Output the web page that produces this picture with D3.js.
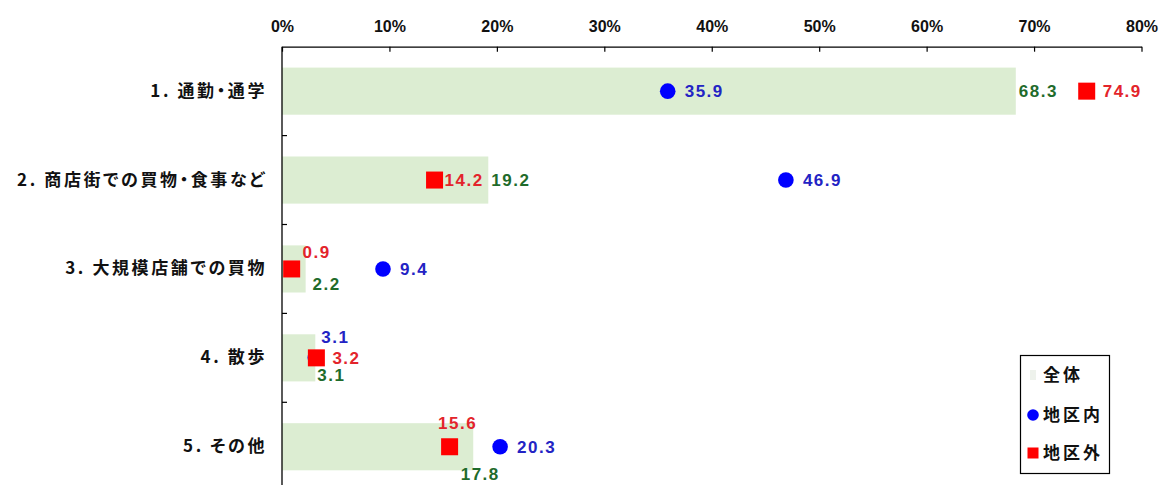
<!DOCTYPE html>
<html><head><meta charset="utf-8">
<script src="https://cdn.jsdelivr.net/npm/d3@7"></script>
<style>
html,body{margin:0;padding:0;background:#fff;}
svg{display:block;}
</style></head>
<body>
<svg id="chart" width="1161" height="485"></svg>
<script>
// ---- data ----
const categories = ["1. 通勤・通学", "2. 商店街での買物・食事など", "3. 大規模店舗での買物", "4. 散歩", "5. その他"];
const seriesNames = ["全体", "地区内", "地区外"];
const totalValues   = [68.3, 19.2, 2.2, 3.1, 17.8];   // 全体 (bars)
const insideValues  = [35.9, 46.9, 9.4, 3.1, 20.3];   // 地区内 (circles)
const outsideValues = [74.9, 14.2, 0.9, 3.2, 15.6];   // 地区外 (squares)
const tickValues = [0, 10, 20, 30, 40, 50, 60, 70, 80];

// ---- label placement (layout only) ----
const totalPlace   = ["right", "right", "below", "below", "below"];
const insidePlace  = ["right", "right", "right", "above", "right"];
const outsidePlace = ["right", "right", "above", "right", "above"];
const totalNudge   = [[0,0],[0,0],[21,15],[16,17],[7,27]];
const insideNudge  = [[0,0],[0,0],[0,0],[20,-21],[0,0]];
const outsideNudge = [[0,0],[-6,0],[25,-17],[0,0],[8,-24]];

const colors = {
  bar: "#dcedd2", barText: "#1f6b2b",
  circle: "#0000ff", circleText: "#2323c4",
  square: "#ff0000", squareText: "#e3242b"
};

const svg = d3.select("#chart");
const plotLeft = 282, plotRight = 1141.5, plotTop = 46.7, band = 88.9;

const x = d3.scaleLinear().domain([0, 80]).range([plotLeft, plotRight]);
const y = d3.scaleBand().domain(categories).range([plotTop, plotTop + band * categories.length]).padding(0);
const cy = c => y(c) + y.bandwidth() / 2;
const barH = y.bandwidth() * 0.53;

// bars
svg.append("g").selectAll("rect").data(categories).join("rect")
  .attr("x", x(0))
  .attr("y", (c) => cy(c) - barH / 2)
  .attr("width", (c, i) => x(totalValues[i]) - x(0))
  .attr("height", barH)
  .attr("fill", colors.bar);

// top axis
const xAxis = d3.axisTop(x).tickValues(tickValues).tickFormat(d => d + "%")
  .tickSizeInner(-5).tickSizeOuter(0);
const gx = svg.append("g").attr("transform", `translate(0,${plotTop})`).call(xAxis);
gx.select(".domain").attr("stroke", "#000").attr("stroke-width", 1.3);
gx.selectAll(".tick line").attr("stroke", "#000").attr("stroke-width", 1.2);
gx.selectAll(".tick text")
  .attr("y", -15).attr("dy", "0")
  .attr("fill", "#111")
  .style("font-family", "'Liberation Sans Narrow','Arial Narrow',sans-serif")
  .style("font-weight", "700")
  .style("font-size", "16px");

// left axis
const yAxis = d3.axisLeft(y).tickSize(0).tickPadding(15);
const gy = svg.append("g").attr("transform", `translate(${plotLeft},0)`).call(yAxis);
gy.select(".domain").attr("stroke", "#000").attr("stroke-width", 1.3)
  .attr("d", `M0,${plotTop}V${plotTop + band * categories.length}`);
gy.selectAll(".tick text")
  .attr("fill", "#111")
  .style("font-family", "'Noto Sans CJK JP',sans-serif")
  .style("font-weight", "700")
  .style("font-size", "17px")
  .style("letter-spacing", "2.6px")
  .style("font-feature-settings", "'palt'");
// category boundary ticks
svg.append("g").selectAll("line").data(categories.slice(1)).join("line")
  .attr("x1", plotLeft).attr("x2", plotLeft + 5)
  .attr("y1", c => y(c)).attr("y2", c => y(c))
  .attr("stroke", "#000").attr("stroke-width", 1.2);

// markers
const gm = svg.append("g");
gm.selectAll("circle").data(categories).join("circle")
  .attr("cx", (c, i) => x(insideValues[i]))
  .attr("cy", c => cy(c))
  .attr("r", 7.8)
  .attr("fill", colors.circle);
gm.selectAll("rect").data(categories).join("rect")
  .attr("x", (c, i) => x(outsideValues[i]) - 8.5)
  .attr("y", c => cy(c) - 8.5)
  .attr("width", 17).attr("height", 17)
  .attr("fill", colors.square);

// data labels
function labels(values, place, nudge, color, rightGap) {
  const g = svg.append("g")
    .style("font-family", "'Liberation Sans',Arial,sans-serif")
    .style("font-weight", "700")
    .style("font-size", "17px")
    .style("letter-spacing", "1.5px");
  g.selectAll("text").data(categories).join("text")
    .attr("x", (c, i) => {
      const px = x(values[i]);
      if (place[i] === "right") return px + rightGap + nudge[i][0];
      return px + nudge[i][0];
    })
    .attr("y", (c, i) => cy(c) + nudge[i][1])
    .attr("dy", "0.36em")
    .attr("text-anchor", (c, i) => place[i] === "right" ? "start" : "middle")
    .attr("fill", color)
    .text((c, i) => values[i].toFixed(1));
}
labels(totalValues, totalPlace, totalNudge, colors.barText, 3);
labels(insideValues, insidePlace, insideNudge, colors.circleText, 17);
labels(outsideValues, outsidePlace, outsideNudge, colors.squareText, 16);

// legend
const lg = svg.append("g");
lg.append("rect").attr("x", 1020.5).attr("y", 355.5).attr("width", 89).attr("height", 118)
  .attr("fill", "#fff").attr("stroke", "#000").attr("stroke-width", 1.2);
const legendY = [375, 415, 453];
lg.append("rect").attr("x", 1030).attr("y", legendY[0] - 5).attr("width", 6).attr("height", 10)
  .attr("fill", "#eef2ec");
lg.append("circle").attr("cx", 1033).attr("cy", legendY[1]).attr("r", 5.8).attr("fill", colors.circle);
lg.append("rect").attr("x", 1027.5).attr("y", legendY[2] - 5.5).attr("width", 11).attr("height", 11)
  .attr("fill", colors.square);
lg.selectAll("text").data(seriesNames).join("text")
  .attr("x", 1043).attr("y", (d, i) => legendY[i]).attr("dy", "0.36em")
  .attr("fill", "#111")
  .style("font-family", "'Noto Sans CJK JP',sans-serif")
  .style("font-weight", "700")
  .style("font-size", "17px")
  .style("letter-spacing", "3px")
  .text(d => d);
</script>
</body></html>
